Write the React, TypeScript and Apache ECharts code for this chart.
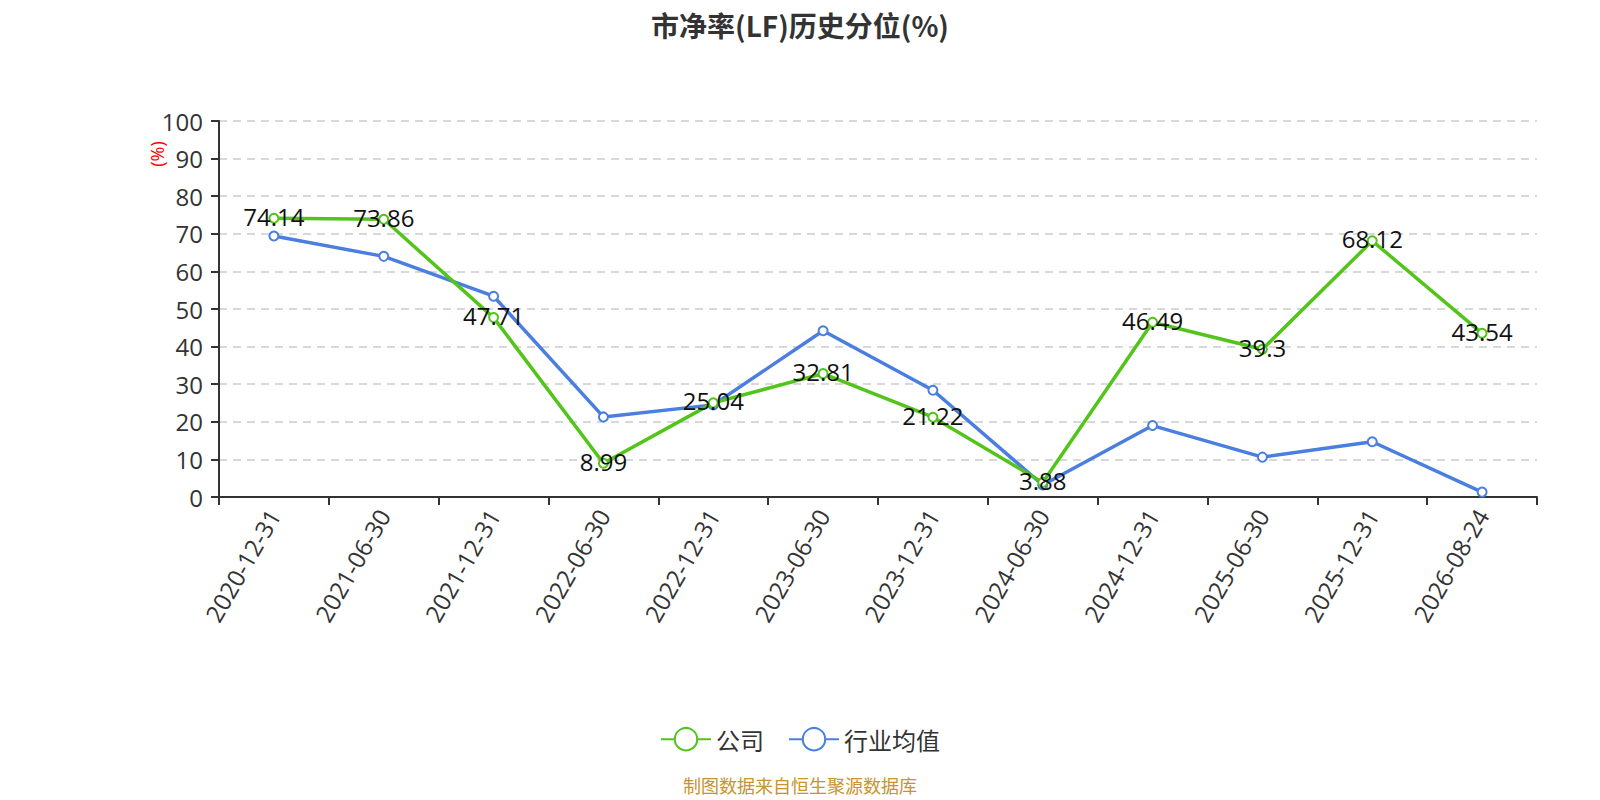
import React, { useEffect, useRef } from "react";
import * as echarts from "echarts";

const categories = [
  "2020-12-31", "2021-06-30", "2021-12-31", "2022-06-30", "2022-12-31", "2023-06-30",
  "2023-12-31", "2024-06-30", "2024-12-31", "2025-06-30", "2025-12-31", "2026-08-24",
];
const companyValues = [74.14, 73.86, 47.71, 8.99, 25.04, 32.81, 21.22, 3.88, 46.49, 39.3, 68.12, 43.54];
const industryValues = [69.4, 64.0, 53.4, 21.3, 24.5, 44.2, 28.4, 3.2, 19.0, 10.6, 14.7, 1.3];
const yTicks = { min: 0, max: 100, interval: 10 };

const FONT = '"Open Sans", "Noto Sans CJK SC", sans-serif';
const CJK = '"Noto Sans CJK SC", "Open Sans", sans-serif';

export default function App() {
  const ref = useRef<HTMLDivElement>(null);
  useEffect(() => {
    document.body.style.margin = "0";
    const chart = echarts.init(ref.current!, null, { renderer: "svg" });
    chart.setOption({
      animation: false,
      backgroundColor: "#fff",
      textStyle: { fontFamily: FONT },
      title: {
        text: "市净率(LF)历史分位(%)",
        left: "center",
        top: 6,
        textStyle: { fontSize: 28, fontWeight: "bold", color: "#333", fontFamily: CJK },
      },
      legend: {
        top: 722,
        left: "center",
        itemWidth: 50,
        itemHeight: 28,
        itemGap: 24,
        textStyle: { fontSize: 24, color: "#333", fontFamily: CJK },
        data: ["公司", "行业均值"],
      },
      grid: { left: 219, right: 63, top: 121, bottom: 303 },
      xAxis: {
        type: "category",
        data: categories,
        boundaryGap: true,
        axisLine: { lineStyle: { color: "#333", width: 2 } },
        axisTick: { show: true, alignWithLabel: false, lineStyle: { color: "#333", width: 2 }, length: 8 },
        axisLabel: { rotate: 60, fontSize: 24, color: "#333", margin: 14, interval: 0 },
      },
      yAxis: {
        type: "value",
        min: yTicks.min,
        max: yTicks.max,
        interval: yTicks.interval,
        axisLine: { show: true, lineStyle: { color: "#333", width: 2 } },
        axisTick: { show: true, length: 8, lineStyle: { color: "#333", width: 2 } },
        axisLabel: { fontSize: 24, color: "#333", margin: 16 },
        splitLine: { lineStyle: { type: [8, 6], color: "#ccc", width: 1.5 } },
      },
      graphic: [
        {
          type: "text",
          x: 157,
          y: 154,
          rotation: Math.PI / 2,
          style: { text: "(%)", fill: "#ff0000", fontSize: 18, fontFamily: FONT, align: "center", verticalAlign: "middle" },
        },
        {
          type: "text",
          x: 800,
          y: 785,
          style: { text: "制图数据来自恒生聚源数据库", fill: "#c8932a", fontSize: 18, fontFamily: CJK, align: "center", verticalAlign: "middle" },
        },
      ],
      series: [
        {
          name: "公司",
          type: "line",
          data: companyValues,
          symbol: "emptyCircle",
          symbolSize: 9,
          itemStyle: { color: "#52c41a", borderWidth: 2 },
          lineStyle: { width: 3.5, color: "#52c41a" },
          label: {
            show: true,
            position: "inside",
            fontSize: 24,
            color: "#111",
            fontFamily: FONT,
            offset: [0, -2],
          },
          z: 3,
        },
        {
          name: "行业均值",
          type: "line",
          data: industryValues,
          symbol: "emptyCircle",
          symbolSize: 9,
          itemStyle: { color: "#4a7ee0", borderWidth: 2 },
          lineStyle: { width: 3.5, color: "#4a7ee0" },
          z: 2,
        },
      ],
    });
    return () => chart.dispose();
  }, []);
  return <div ref={ref} style={{ width: 1600, height: 800 }} />;
}
